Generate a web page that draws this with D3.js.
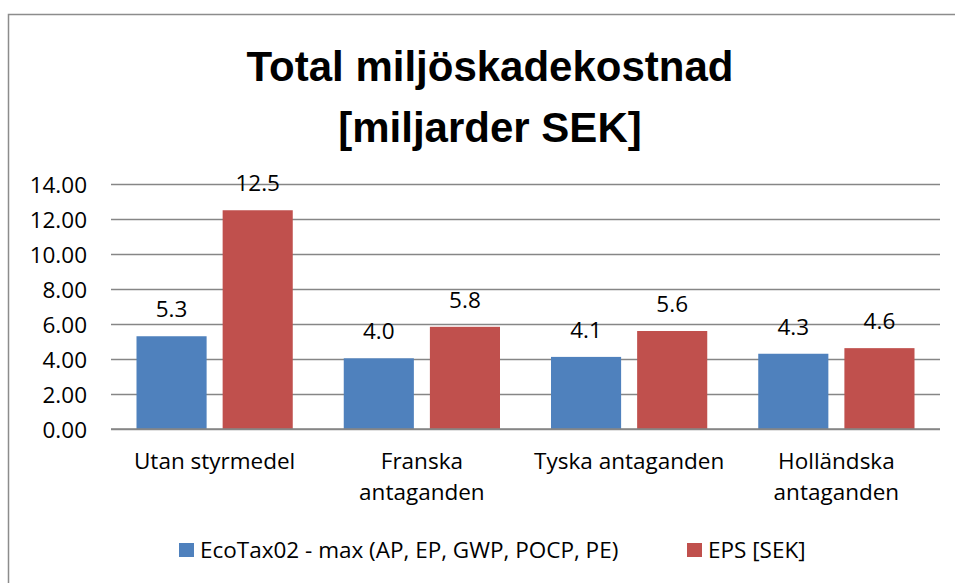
<!DOCTYPE html>
<html>
<head>
<meta charset="utf-8">
<script src="https://cdnjs.cloudflare.com/ajax/libs/d3/7.8.5/d3.min.js"></script>
<style>
  body { margin: 0; background: #fff; }
  text { fill: #000; }
</style>
</head>
<body>
<div class="chart"></div>
<script>
// data
var categories = [["Utan styrmedel"], ["Franska", "antaganden"], ["Tyska antaganden"], ["Holländska", "antaganden"]];
var seriesNames = ["EcoTax02 - max (AP, EP, GWP, POCP, PE)", "EPS [SEK]"];
var ecoTax = [5.3, 4.04, 4.12, 4.3];
var eps = [12.5, 5.84, 5.6, 4.62];
var yTicks = [0, 2, 4, 6, 8, 10, 12, 14];
var colors = ["#4F81BD", "#C0504D"];

var W = 955, H = 583;
var margin = {top: 184, left: 111},
    width = 940 - margin.left,
    height = 429 - margin.top;

var bodyFont = "'Open Sans', 'Noto Sans', sans-serif";
var fs = 22.5;

var svg = d3.select(".chart").append("svg")
    .attr("width", W)
    .attr("height", H);

// outer border
svg.append("rect")
    .attr("x", 8.5).attr("y", 14.5)
    .attr("width", W + 10).attr("height", H + 10)
    .attr("fill", "none")
    .attr("stroke", "#8c8c8c")
    .attr("stroke-width", 1.5);

// title
var title = svg.append("text")
    .attr("text-anchor", "middle")
    .attr("font-family", "'Liberation Sans', Arial, sans-serif")
    .attr("font-weight", "bold")
    .attr("font-size", 42);
title.append("tspan").attr("x", 490).attr("y", 81).text("Total miljöskadekostnad");
title.append("tspan").attr("x", 490).attr("y", 142).text("[miljarder SEK]");

var g = svg.append("g")
    .attr("transform", "translate(" + margin.left + "," + margin.top + ")");

var x0 = d3.scaleBand()
    .domain(d3.range(categories.length))
    .range([0, width]);

var x1 = d3.scaleBand()
    .domain([0, 1])
    .range([25.5, x0.bandwidth() - 25.5])
    .paddingInner(16 / 86);

var y = d3.scaleLinear()
    .domain([0, 14])
    .range([height, 0]);

// gridlines + y axis
var yAxis = g.append("g")
    .call(d3.axisLeft(y).tickValues(yTicks).tickSize(-width).tickPadding(24).tickFormat(d3.format(".2f")));
yAxis.select(".domain").remove();
yAxis.selectAll("line").attr("stroke", "#868686").attr("stroke-width", 1.3);
yAxis.selectAll("text")
    .attr("font-family", bodyFont)
    .attr("font-size", fs)
    .attr("dy", "0.36em")
    .attr("fill", "#000");

var series = [ecoTax, eps];

series.forEach(function(vals, s) {
    g.selectAll(".bar" + s)
        .data(vals)
        .enter().append("rect")
        .attr("x", function(d, i) { return x0(i) + x1(s); })
        .attr("width", x1.bandwidth())
        .attr("y", function(d) { return y(d); })
        .attr("height", function(d) { return height - y(d); })
        .attr("fill", colors[s]);

    g.selectAll(".lab" + s)
        .data(vals)
        .enter().append("text")
        .attr("x", function(d, i) { return x0(i) + x1(s) + x1.bandwidth() / 2; })
        .attr("y", function(d) { return y(d) - 19; })
        .attr("text-anchor", "middle")
        .attr("font-family", bodyFont)
        .attr("font-size", fs)
        .text(function(d) { return d3.format(".1f")(Math.floor(d * 10 + 1e-9) / 10); });
});

// x axis line
g.append("line")
    .attr("x1", 0).attr("x2", width)
    .attr("y1", height).attr("y2", height)
    .attr("stroke", "#868686").attr("stroke-width", 1.3);

// category labels
var xl = g.selectAll(".xlab")
    .data(categories)
    .enter().append("text")
    .attr("text-anchor", "middle")
    .attr("font-family", bodyFont)
    .attr("font-size", fs)
    .attr("transform", function(d, i) { return "translate(" + (x0(i) + x0.bandwidth() / 2) + "," + (height + 40) + ")"; });
xl.selectAll("tspan")
    .data(function(d) { return d; })
    .enter().append("tspan")
    .attr("x", 0)
    .attr("y", function(d, i) { return i * 31; })
    .text(function(d) { return d; });

// legend
var legendX = [179, 687];
var legend = svg.selectAll(".legend")
    .data(seriesNames)
    .enter().append("g")
    .attr("transform", function(d, i) { return "translate(" + legendX[i] + ",543)"; });
legend.append("rect")
    .attr("width", 15).attr("height", 14)
    .attr("fill", function(d, i) { return colors[i]; });
legend.append("text")
    .attr("x", 21).attr("y", 15)
    .attr("font-family", bodyFont)
    .attr("font-size", fs)
    .text(function(d) { return d; });
</script>
</body>
</html>
